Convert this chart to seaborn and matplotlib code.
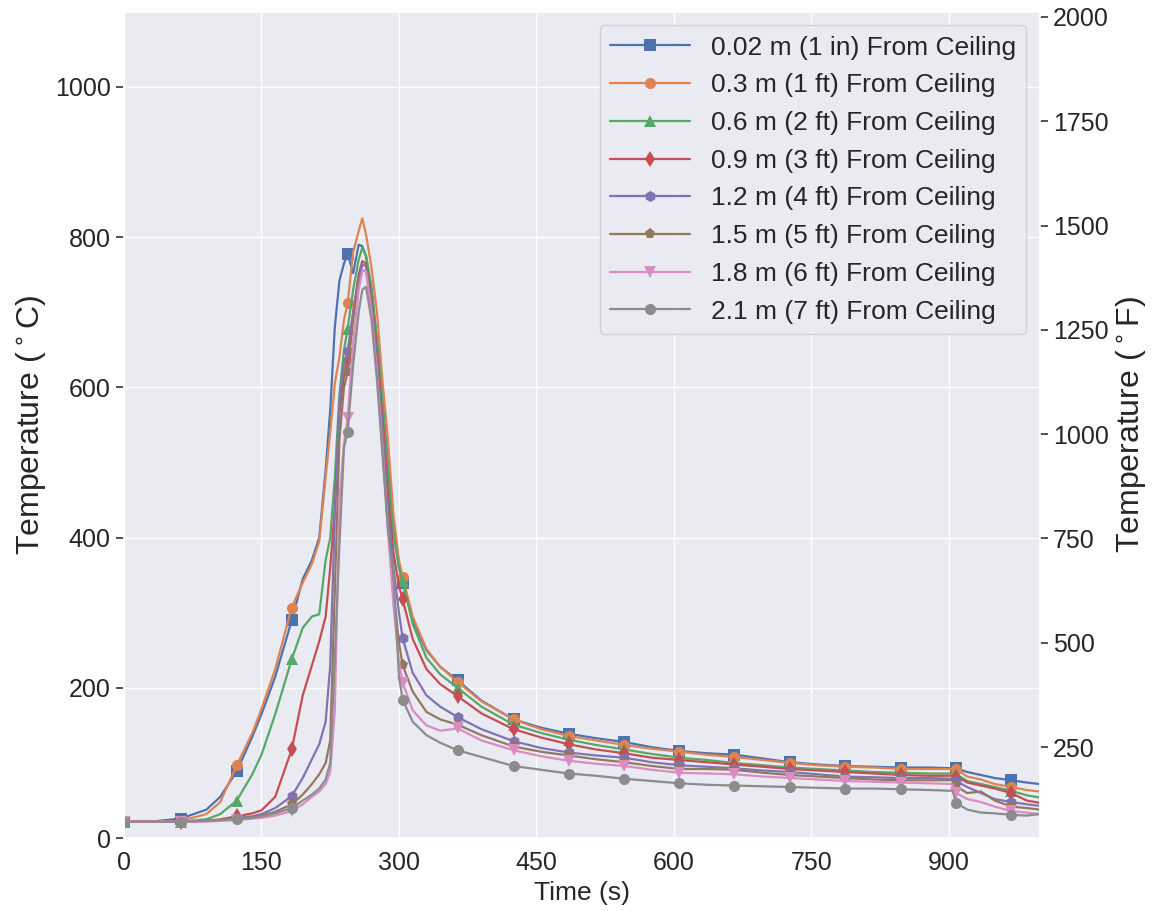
import numpy as np
import pandas as pd
import matplotlib
matplotlib.use('Agg')
import matplotlib.pyplot as plt
import seaborn as sns

# time base (s)
time = [0, 30, 62, 90, 105, 123, 140, 150, 165, 183, 195, 205, 213, 220, 225,
        230, 235, 240, 244, 250, 256, 260, 264, 270, 276, 282, 288, 294, 300, 304,
        315, 330, 345, 364, 390, 425, 455, 485, 515, 546, 576, 606, 636, 666, 697,
        727, 757, 787, 818, 848, 878, 904, 908, 920, 935, 950, 968, 985, 999]

# temperatures (C)
t_002 = [22, 22, 26, 38, 55, 89, 135, 165, 215, 290, 345, 370, 400, 490, 570,
         680, 742, 765, 778, 752, 790, 788, 775, 730, 660, 580, 500, 410, 360, 340,
         290, 250, 228, 210, 183, 158, 147, 139, 133, 128, 121, 116, 113, 111, 106,
         101, 98, 96, 95, 94, 94, 93, 93, 88, 84, 80, 77, 74, 72]
t_03 = [22, 22, 23, 32, 48, 97, 140, 172, 225, 307, 340, 365, 395, 480, 540,
        605, 640, 690, 712, 780, 808, 825, 804, 760, 700, 609, 530, 430, 370, 348,
        295, 252, 228, 208, 182, 158, 145, 136, 130, 124, 119, 115, 111, 108, 104,
        100, 97, 95, 94, 92, 92, 92, 92, 82, 78, 72, 68, 64, 62]
t_06 = [22, 22, 22, 25, 32, 50, 85, 111, 165, 238, 280, 295, 298, 370, 400,
        480, 590, 650, 678, 730, 770, 786, 775, 735, 665, 580, 490, 405, 360, 342,
        285, 240, 218, 200, 175, 151, 140, 131, 124, 118, 112, 107, 104, 100, 97,
        94, 92, 90, 88, 87, 86, 86, 85, 76, 72, 68, 63, 57, 54]
t_09 = [22, 22, 22, 23, 25, 29, 33, 37, 55, 118, 190, 230, 262, 295, 360,
        440, 565, 615, 636, 700, 750, 768, 765, 720, 650, 560, 460, 380, 335, 318,
        265, 225, 205, 189, 166, 145, 134, 125, 118, 113, 107, 104, 101, 98, 95,
        92, 90, 88, 86, 84, 83, 83, 82, 74, 70, 66, 60, 50, 47]
t_12 = [22, 22, 22, 23, 24, 27, 29, 32, 40, 56, 80, 105, 125, 155, 230,
        430, 580, 630, 648, 700, 745, 763, 762, 715, 640, 545, 440, 360, 300, 266,
        220, 190, 175, 161, 145, 129, 120, 114, 110, 107, 101, 97, 95, 93, 90,
        88, 85, 82, 81, 80, 80, 79, 76, 68, 60, 52, 48, 45, 43]
t_15 = [22, 22, 22, 23, 24, 25, 28, 30, 35, 45, 58, 72, 85, 100, 130,
        330, 530, 600, 620, 690, 740, 755, 756, 705, 625, 525, 420, 330, 260, 230,
        195, 168, 158, 151, 137, 122, 115, 110, 105, 101, 96, 92, 92, 91, 87,
        84, 82, 80, 78, 77, 77, 77, 69, 60, 62, 50, 42, 40, 38]
t_18 = [22, 22, 22, 22, 23, 24, 26, 27, 30, 36, 45, 55, 62, 72, 88,
        170, 450, 525, 559, 660, 730, 755, 755, 700, 620, 520, 410, 310, 235, 207,
        170, 150, 143, 146, 130, 117, 109, 103, 99, 96, 91, 87, 86, 85, 82,
        80, 78, 76, 75, 74, 73, 72, 60, 52, 48, 42, 36, 34, 32]
t_21 = [22, 22, 22, 23, 24, 25, 27, 29, 33, 40, 50, 58, 66, 78, 100,
        240, 390, 520, 541, 630, 700, 730, 734, 690, 610, 510, 410, 350, 215, 184,
        155, 137, 127, 117, 108, 96, 91, 86, 83, 79, 76, 73, 71, 70, 69,
        68, 67, 66, 66, 65, 64, 63, 47, 38, 34, 33, 31, 30, 32]

labels = ['0.02 m (1 in) From Ceiling', '0.3 m (1 ft) From Ceiling',
          '0.6 m (2 ft) From Ceiling', '0.9 m (3 ft) From Ceiling',
          '1.2 m (4 ft) From Ceiling', '1.5 m (5 ft) From Ceiling',
          '1.8 m (6 ft) From Ceiling', '2.1 m (7 ft) From Ceiling']
series = [t_002, t_03, t_06, t_09, t_12, t_15, t_18, t_21]
markers = ['s', 'o', '^', 'd', 'h', 'p', 'v', 'o']
marker_times = [0, 62, 123, 183, 244, 304, 364, 425, 485, 546, 606, 666, 727,
                787, 848, 908, 968]

sns.set_theme(style='darkgrid')
plt.rcParams['font.family'] = ['Liberation Sans', 'DejaVu Sans']
colors = sns.color_palette('deep', 8)

fig, ax = plt.subplots(figsize=(11.59, 9.11), dpi=100)
fig.subplots_adjust(left=0.107, right=0.897, top=0.987, bottom=0.080)

mark_idx = [i for i, t in enumerate(time) if t in marker_times]
for vals, lab, mk, c in zip(series, labels, markers, colors):
    df = pd.DataFrame({'Time': time, 'Temp': vals})
    sns.lineplot(data=df, x='Time', y='Temp', ax=ax, color=c, label=lab,
                 marker=mk, markevery=mark_idx, markersize=8, linewidth=1.6,
                 markeredgewidth=0)

ax.set_xlim(0, 999)
ax.set_ylim(0, 1100)
ax.set_xticks([0, 150, 300, 450, 600, 750, 900])
ax.set_yticks([0, 200, 400, 600, 800, 1000])
ax.set_xlabel('Time (s)', fontsize=19)
ax.set_ylabel(r'Temperature ($^\circ$C)', fontsize=23)
ax.tick_params(axis='both', labelsize=18)
ax.tick_params(axis='y', left=True, length=6, width=1.2, color='#333333')

ax2 = ax.twinx()
ax2.set_ylim(32, 1100 * 1.8 + 32)
ax2.set_yticks([250, 500, 750, 1000, 1250, 1500, 1750, 2000])
ax2.grid(False)
ax2.set_ylabel(r'Temperature ($^\circ$F)', fontsize=23)
ax2.tick_params(axis='y', labelsize=18, right=True, length=6, width=1.2,
                color='#333333')

ax.legend(loc='upper right', fontsize=19, handlelength=3.0, labelspacing=0.52,
          framealpha=0.8)

fig.savefig('out.png', dpi=100)
